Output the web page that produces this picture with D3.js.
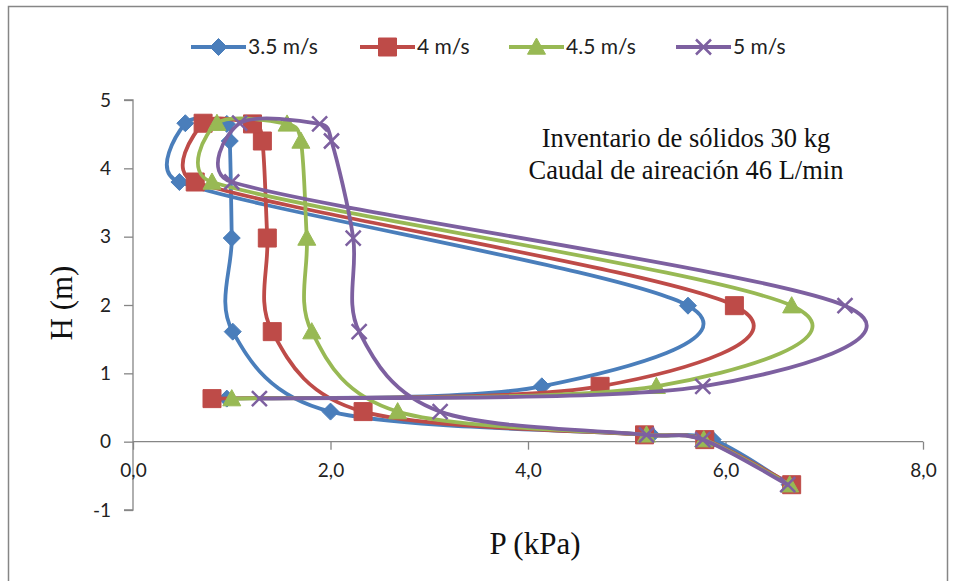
<!DOCTYPE html>
<html><head><meta charset="utf-8">
<script src="https://cdn.jsdelivr.net/npm/d3@7/dist/d3.min.js"></script>
<style>body{margin:0;background:#fff;} svg{display:block;}</style>
</head><body>
<svg id="c" width="958" height="581"></svg>
<script>
const seriesNames = ["3.5 m/s", "4 m/s", "4.5 m/s", "5 m/s"];
const heightH = [-0.63, 0.03, 0.1, 0.44, 1.61, 2.98, 4.4, 4.65, 4.66, 3.8, 1.99, 0.81, 0.63];
const p35 = [6.65, 5.87, 5.25, 2.0, 1.01, 1.0, 0.98, 0.95, 0.53, 0.47, 5.62, 4.14, 0.95];
const p40 = [6.67, 5.79, 5.18, 2.33, 1.41, 1.36, 1.31, 1.21, 0.71, 0.63, 6.09, 4.73, 0.80];
const p45 = [6.65, 5.78, 5.2, 2.68, 1.81, 1.76, 1.7, 1.56, 0.85, 0.8, 6.67, 5.3, 1.0];
const p50 = [6.63, 5.77, 5.2, 3.11, 2.29, 2.23, 2.01, 1.89, 1.08, 1.0, 7.21, 5.77, 1.28];
const xTicks = [0, 2, 4, 6, 8];
const yTicks = [-1, 0, 1, 2, 3, 4, 5];
const colors = ["#4A7EBB", "#BE4B48", "#98B954", "#7D60A0"];
const markers = ["diamond", "square", "triangle", "x"];
const allP = [p35, p40, p45, p50];

const svg = d3.select("#c");
svg.append("rect").attr("x", 8.5).attr("y", 6.5).attr("width", 939).attr("height", 600)
  .attr("fill", "#fff").attr("stroke", "#868686").attr("stroke-width", 1.5);

const x = d3.scaleLinear().domain([0, 8]).range([133, 923]);
const y = d3.scaleLinear().domain([-1, 5]).range([510, 100]);
const axisColor = "#868686";

const gy = svg.append("g").attr("transform", `translate(${x(0)},0)`)
  .call(d3.axisLeft(y).tickValues(yTicks).tickSize(9).tickPadding(13).tickFormat(d => String(d)));
const gx = svg.append("g").attr("transform", `translate(0,${y(0)})`)
  .call(d3.axisBottom(x).tickValues(xTicks).tickSize(8).tickPadding(14).tickFormat(d => d.toFixed(1).replace(".", ",")));
[gx, gy].forEach(g => {
  g.select(".domain").attr("stroke", axisColor).attr("stroke-width", 1.3);
  g.selectAll(".tick line").attr("stroke", axisColor).attr("stroke-width", 1.3);
  g.selectAll(".tick text").attr("font-family", "Lato, 'Open Sans', sans-serif").attr("font-size", 19).attr("fill", "#222");
});
gy.select(".domain").attr("d", `M-9,${y(5)}H0V${y(-1)}H-9`);
gx.select(".domain").attr("d", `M${x(0)},0H${x(8)}`);
gx.selectAll(".tick text").attr("dy", "0.71em");

function markerPath(type, s) {
  const h = s / 2;
  if (type === "diamond") return `M0,${-h}L${h},0L0,${h}L${-h},0Z`;
  if (type === "square") return `M${-h},${-h}H${h}V${h}H${-h}Z`;
  if (type === "triangle") return `M0,${-h}L${h},${h * 0.8}L${-h},${h * 0.8}Z`;
  return `M${-h},${-h}L${h},${h}M${h},${-h}L${-h},${h}`;
}
const msize = { diamond: 17, square: 18, triangle: 18, x: 15 };

// Excel-like smoothing: Catmull-Rom (1/6) control vectors, capped at half the segment length
function smoothPath(pts) {
  const P = pts.map(d => [x(d[0]), y(d[1])]);
  const n = P.length;
  const p = d3.path();
  p.moveTo(P[0][0], P[0][1]);
  const cap = (v, len) => {
    const l = Math.hypot(v[0], v[1]);
    const m = len / 2;
    return l > m && l > 0 ? [v[0] * m / l, v[1] * m / l] : v;
  };
  for (let i = 0; i < n - 1; i++) {
    const p0 = P[Math.max(i - 1, 0)], p1 = P[i], p2 = P[i + 1], p3 = P[Math.min(i + 2, n - 1)];
    const len = Math.hypot(p2[0] - p1[0], p2[1] - p1[1]);
    const v1 = cap([(p2[0] - p0[0]) / 6, (p2[1] - p0[1]) / 6], len);
    const v2 = cap([(p3[0] - p1[0]) / 6, (p3[1] - p1[1]) / 6], len);
    p.bezierCurveTo(p1[0] + v1[0], p1[1] + v1[1], p2[0] - v2[0], p2[1] - v2[1], p2[0], p2[1]);
  }
  return p.toString();
}

allP.forEach((ps, i) => {
  const pts = ps.map((p, k) => [p, heightH[k]]);
  const g = svg.append("g");
  g.append("path").attr("d", smoothPath(pts)).attr("fill", "none").attr("stroke", colors[i])
    .attr("stroke-width", 3.8).attr("stroke-linejoin", "round").attr("stroke-linecap", "round");
  g.selectAll("path.m").data(pts).join("path").attr("class", "m")
    .attr("transform", d => `translate(${x(d[0])},${y(d[1])})`)
    .attr("d", markerPath(markers[i], msize[markers[i]]))
    .attr("fill", markers[i] === "x" ? "none" : colors[i])
    .attr("stroke", colors[i]).attr("stroke-width", markers[i] === "x" ? 2.5 : 1);
});

const legX = [191, 360, 509, 676];
seriesNames.forEach((n, i) => {
  const g = svg.append("g").attr("transform", `translate(${legX[i]},47)`);
  g.append("line").attr("x1", 0).attr("x2", 55).attr("stroke", colors[i]).attr("stroke-width", 3.8);
  g.append("path").attr("transform", "translate(27.5,0)").attr("d", markerPath(markers[i], msize[markers[i]]))
    .attr("fill", markers[i] === "x" ? "none" : colors[i]).attr("stroke", colors[i])
    .attr("stroke-width", markers[i] === "x" ? 2.5 : 1);
  g.append("text").attr("x", 57).attr("y", 0).attr("dy", "0.35em")
    .attr("font-family", "Lato, 'Open Sans', sans-serif").attr("font-size", 21).attr("fill", "#222").text(n);
});

const ann = svg.append("g").attr("font-family", "'Liberation Serif', 'Times New Roman', serif").attr("font-size", 26.5).attr("fill", "#111").attr("text-anchor", "middle");
ann.append("text").attr("x", 686).attr("y", 147).text("Inventario de sólidos 30 kg");
ann.append("text").attr("x", 686).attr("y", 179).text("Caudal de aireación 46 L/min");

svg.append("text").attr("x", 535).attr("y", 554).attr("text-anchor", "middle")
  .attr("font-family", "'Liberation Serif', serif").attr("font-size", 31).attr("fill", "#111").text("P (kPa)");
svg.append("text").attr("transform", "translate(72,303) rotate(-90)").attr("text-anchor", "middle")
  .attr("font-family", "'Liberation Serif', serif").attr("font-size", 31).attr("fill", "#111").text("H (m)");
</script>
</body></html>
